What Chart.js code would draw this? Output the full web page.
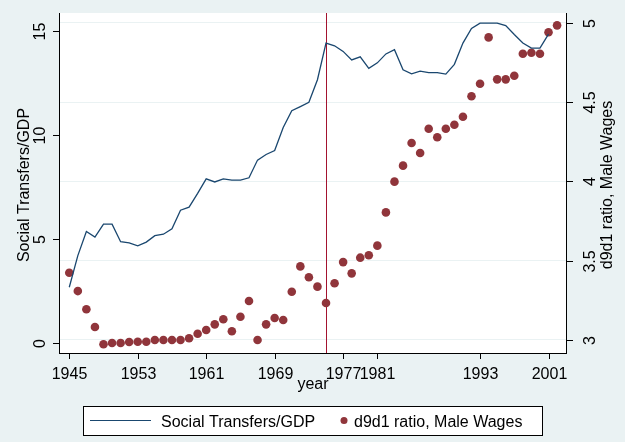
<!DOCTYPE html>
<html>
<head>
<meta charset="utf-8">
<script src="https://cdn.jsdelivr.net/npm/chart.js@4.4.1/dist/chart.umd.min.js"></script>
<style>
  html, body { margin: 0; padding: 0; background: #eaf2f3; }
  #chart { display: block; }
</style>
</head>
<body>
<canvas id="chart" width="625" height="442"></canvas>
<script>
// years of the series
const years = [1945, 1946, 1947, 1948, 1949, 1950, 1951, 1952, 1953, 1954,
  1955, 1956, 1957, 1958, 1959, 1960, 1961, 1962, 1963, 1964,
  1965, 1966, 1967, 1968, 1969, 1970, 1971, 1972, 1973, 1974,
  1975, 1976, 1977, 1978, 1979, 1980, 1981, 1982, 1983, 1984,
  1985, 1986, 1987, 1988, 1989, 1990, 1991, 1992, 1993, 1994,
  1995, 1996, 1997, 1998, 1999, 2000, 2001, 2002];

// Social Transfers/GDP, 1945-2001 (left axis)
const transfers = [2.69, 4.21, 5.37, 5.10, 5.72, 5.72, 4.88, 4.82, 4.68, 4.86,
  5.17, 5.24, 5.50, 6.39, 6.54, 7.20, 7.90, 7.75, 7.90, 7.84,
  7.84, 7.95, 8.80, 9.07, 9.26, 10.37, 11.17, 11.37, 11.58, 12.66,
  14.42, 14.29, 14.02, 13.61, 13.76, 13.21, 13.47, 13.90, 14.10, 13.14,
  12.94, 13.07, 13.00, 13.00, 12.93, 13.40, 14.42, 15.12, 15.38, 15.38,
  15.38, 15.26, 14.83, 14.42, 14.18, 14.18, 14.85];

// d9d1 ratio, male wages, 1945-2002 (right axis)
const d9d1 = [3.423, 3.307, 3.192, 3.080, 2.971, 2.979, 2.979, 2.985, 2.987, 2.987,
  2.998, 2.998, 2.998, 2.998, 3.009, 3.038, 3.061, 3.097, 3.129, 3.053,
  3.145, 3.244, 2.998, 3.097, 3.137, 3.124, 3.303, 3.463, 3.394, 3.335,
  3.232, 3.356, 3.490, 3.419, 3.518, 3.533, 3.594, 3.804, 3.998, 4.099,
  4.242, 4.179, 4.332, 4.278, 4.332, 4.357, 4.408, 4.537, 4.616, 4.909,
  4.644, 4.644, 4.667, 4.806, 4.812, 4.806, 4.941, 4.985];

const xTicks = [1945, 1953, 1961, 1969, 1977, 1981, 1993, 2001];
const leftTicks = [0, 5, 10, 15];
const rightTicks = [3, 3.5, 4, 4.5, 5];
const breakYear = 1975;

const leftTitle = 'Social Transfers/GDP';
const rightTitle = 'd9d1 ratio, Male Wages';
const xTitle = 'year';

const FONT = '"Liberation Sans", Arial, sans-serif';
const BG = '#eaf2f3';
const NAVY = '#1a476f';
const MAROON = '#90353b';

const transferPoints = transfers.map((v, i) => ({ x: years[i], y: v }));
const d9d1Points = d9d1.map((v, i) => ({ x: years[i], y: v }));

function rotText(ctx, text, x, y) {
  ctx.save();
  ctx.translate(x, y);
  ctx.rotate(-Math.PI / 2);
  ctx.textAlign = 'center';
  ctx.textBaseline = 'alphabetic';
  ctx.fillText(text, 0, 0);
  ctx.restore();
}

const stataFrame = {
  id: 'stataFrame',
  beforeDraw(chart) {
    const { ctx, chartArea: a } = chart;
    ctx.save();
    ctx.fillStyle = BG;
    ctx.fillRect(0, 0, chart.width, chart.height);
    ctx.fillStyle = '#ffffff';
    ctx.fillRect(a.left, a.top, a.right - a.left, a.bottom - a.top);
    ctx.restore();
  },
  beforeDatasetsDraw(chart) {
    const { ctx, chartArea: a, scales } = chart;
    const px = Math.round(scales.x.getPixelForValue(breakYear)) + 0.5;
    ctx.save();
    ctx.strokeStyle = '#a3132f';
    ctx.lineWidth = 1;
    ctx.beginPath();
    ctx.moveTo(px, a.top);
    ctx.lineTo(px, a.bottom);
    ctx.stroke();
    ctx.restore();
  },
  afterDraw(chart) {
    const { ctx, chartArea: a, scales } = chart;
    ctx.save();
    ctx.strokeStyle = '#000';
    ctx.fillStyle = '#000';
    ctx.lineWidth = 1;

    // axis lines
    ctx.beginPath();
    ctx.moveTo(a.left + 0.5, a.top);
    ctx.lineTo(a.left + 0.5, a.bottom + 1);
    ctx.moveTo(a.right - 0.5, a.top);
    ctx.lineTo(a.right - 0.5, a.bottom + 1);
    ctx.moveTo(a.left, a.bottom + 0.5);
    ctx.lineTo(a.right, a.bottom + 0.5);
    ctx.stroke();

    ctx.font = '16px ' + FONT;

    // x ticks
    xTicks.forEach(v => {
      const px = Math.round(scales.x.getPixelForValue(v)) + 0.5;
      ctx.beginPath();
      ctx.moveTo(px, a.bottom);
      ctx.lineTo(px, a.bottom + 6);
      ctx.stroke();
      ctx.textAlign = 'center';
      ctx.textBaseline = 'alphabetic';
      ctx.fillText(String(v), px, 379);
    });

    // left ticks
    leftTicks.forEach(v => {
      const py = Math.round(scales.y.getPixelForValue(v)) + 0.5;
      ctx.beginPath();
      ctx.moveTo(a.left - 6, py);
      ctx.lineTo(a.left, py);
      ctx.stroke();
      rotText(ctx, String(v), 45, py);
    });

    // right ticks
    rightTicks.forEach(v => {
      const py = Math.round(scales.y1.getPixelForValue(v)) + 0.5;
      ctx.beginPath();
      ctx.moveTo(a.right, py);
      ctx.lineTo(a.right + 6, py);
      ctx.stroke();
      rotText(ctx, String(v), 595, py);
    });

    // axis titles
    const midY = (a.top + a.bottom) / 2 + 2;
    rotText(ctx, leftTitle, 29, midY);
    rotText(ctx, rightTitle, 612, midY);
    ctx.textAlign = 'center';
    ctx.fillText(xTitle, (a.left + a.right) / 2, 389);

    // legend
    ctx.fillStyle = '#ffffff';
    ctx.fillRect(83.5, 406.5, 459, 29);
    ctx.strokeStyle = '#000';
    ctx.strokeRect(83.5, 406.5, 459, 29);
    ctx.strokeStyle = NAVY;
    ctx.lineWidth = 1.2;
    ctx.beginPath();
    ctx.moveTo(90, 420.5);
    ctx.lineTo(151, 420.5);
    ctx.stroke();
    ctx.fillStyle = MAROON;
    ctx.beginPath();
    ctx.arc(344, 420.5, 3.5, 0, Math.PI * 2);
    ctx.fill();
    ctx.fillStyle = '#000';
    ctx.textAlign = 'left';
    ctx.fillText(chart.data.datasets[0].label, 161, 427);
    ctx.fillText(chart.data.datasets[1].label, 354, 427);
    ctx.restore();
  }
};

new Chart(document.getElementById('chart'), {
  type: 'line',
  data: {
    datasets: [{
      label: 'Social Transfers/GDP',
      data: transferPoints,
      yAxisID: 'y',
      borderColor: NAVY,
      borderWidth: 1.3,
      pointRadius: 0,
      tension: 0,
      fill: false
    }, {
      label: 'd9d1 ratio, Male Wages',
      data: d9d1Points,
      yAxisID: 'y1',
      showLine: false,
      pointRadius: 4.3,
      pointBackgroundColor: MAROON,
      pointBorderColor: MAROON,
      pointBorderWidth: 0,
      clip: false
    }]
  },
  options: {
    responsive: false,
    animation: false,
    events: [],
    layout: { padding: { top: 13, left: 0, right: 0, bottom: 0 } },
    plugins: {
      legend: { display: false },
      tooltip: { enabled: false }
    },
    scales: {
      x: {
        type: 'linear',
        min: 1943.8,
        max: 2003.16,
        ticks: { display: false },
        grid: { display: false },
        border: { display: false },
        afterBuildTicks: s => { s.ticks = xTicks.map(v => ({ value: v })); },
        afterFit: s => { s.height = 89; }
      },
      y: {
        position: 'left',
        min: -0.466,
        max: 15.865,
        ticks: { display: false },
        grid: { display: false },
        border: { display: false },
        afterBuildTicks: s => { s.ticks = leftTicks.map(v => ({ value: v })); },
        afterFit: s => { s.width = 59; }
      },
      y1: {
        position: 'right',
        min: 2.916,
        max: 5.063,
        ticks: { display: false },
        grid: { color: BG, lineWidth: 1, drawTicks: false },
        border: { display: false },
        afterBuildTicks: s => { s.ticks = rightTicks.map(v => ({ value: v })); },
        afterFit: s => { s.width = 58; }
      }
    }
  },
  plugins: [stataFrame]
});
</script>
</body>
</html>
